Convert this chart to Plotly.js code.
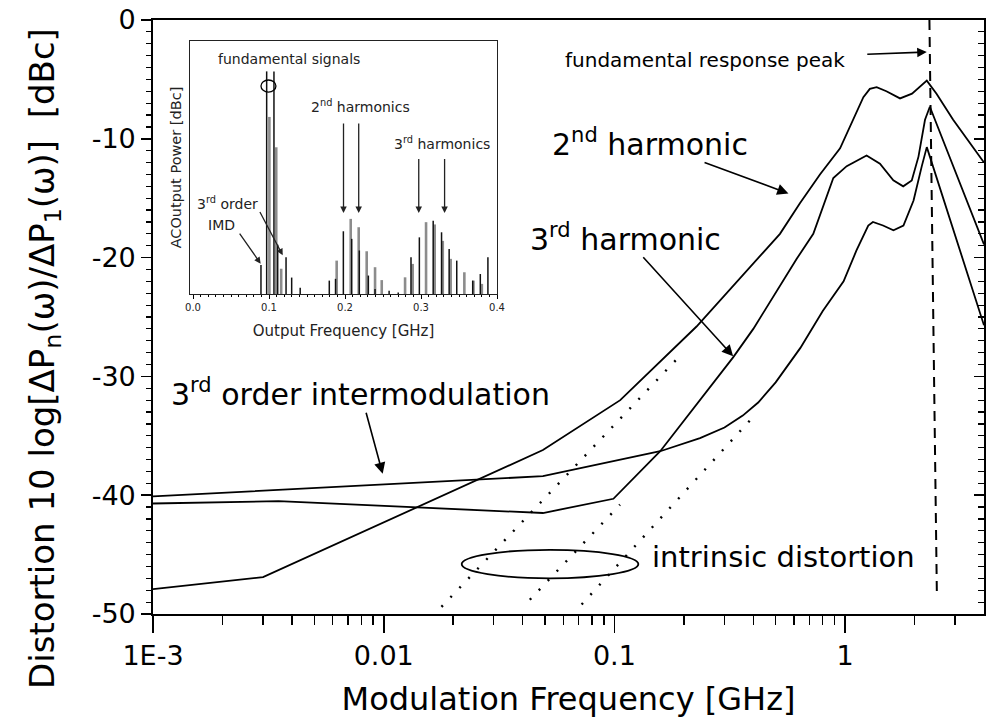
<!DOCTYPE html>
<html>
<head>
<meta charset="utf-8">
<script src="https://cdn.plot.ly/plotly-3.0.1.min.js"></script>
<style>html,body{margin:0;padding:0;background:#fff}</style>
</head>
<body>
<div id="chart" style="width:992px;height:724px"></div>
<script>
// ---------- main chart data: modulation frequency [GHz] vs distortion [dBc] ----------
const h2Freq = [0.001, 0.0030, 0.049, 0.106, 0.227, 0.522, 0.638, 0.778, 0.951, 1.086, 1.20, 1.28, 1.37, 1.51, 1.73, 1.95, 2.26, 2.49, 2.94, 4.0];
const h2Db   = [-47.9, -46.9, -36.2, -32.0, -25.8, -18.0, -15.4, -13.0, -10.8, -8.3, -6.5, -5.8, -5.65, -6.0, -6.6, -6.2, -5.1, -6.2, -8.4, -12.0];

const h3Freq = [0.001, 0.0035, 0.049, 0.099, 0.158, 0.327, 0.40, 0.522, 0.617, 0.728, 0.889, 1.016, 1.239, 1.416, 1.618, 1.786, 1.945, 2.08, 2.22, 2.33, 4.0];
const h3Db   = [-40.7, -40.5, -41.5, -40.3, -36.3, -28.4, -26.0, -22.4, -20.1, -18.0, -13.3, -12.3, -11.4, -12.1, -13.5, -14.0, -13.5, -11.5, -8.4, -7.3, -18.9];

const imdFreq = [0.001, 0.049, 0.158, 0.235, 0.30, 0.36, 0.42, 0.50, 0.64, 0.80, 0.985, 1.12, 1.26, 1.32, 1.46, 1.62, 1.79, 1.98, 2.15, 2.26, 4.0];
const imdDb   = [-40.1, -38.4, -36.3, -35.2, -34.3, -33.3, -32.2, -30.5, -27.6, -24.5, -22.0, -19.4, -17.3, -17.0, -17.3, -17.7, -17.3, -15.2, -12.3, -10.7, -25.7];

// intrinsic distortion (dotted) lines: [start, end]
const intr1Freq = [0.0178, 0.196], intr1Db = [-49.4, -28.1];
const intr2Freq = [0.0430, 0.1057], intr2Db = [-48.8, -40.8];
const intr3Freq = [0.0721, 0.387], intr3Db = [-49.2, -33.7];

// fundamental response peak (dashed vertical marker)
const peakFreq = [2.32, 2.50], peakDb = [0, -48.6];

// ---------- inset spectrum data: output frequency [GHz] vs AC output power (relative) ----------
const blackFreq = [0.0894, 0.0969, 0.1065, 0.1114, 0.1224, 0.1298, 0.141, 0.1793, 0.1875, 0.1978, 0.2088, 0.2188, 0.2307, 0.2395, 0.258, 0.270,
                   0.2868, 0.2978, 0.3160, 0.3270, 0.3370, 0.3470, 0.3680, 0.3780, 0.3880];
const blackPow  = [11.5, 88, 88, 19.5, 14.5, 6.5, 2.5, 5.3, 6, 24.8, 21.8, 17.2, 7.3, 2, 1.3, 0.6,
                   14.5, 22.4, 29, 24.4, 17.8, 13.2, 5.3, 7.9, 14.5];
const grayFreq  = [0.1005, 0.1095, 0.1160, 0.1890, 0.2075, 0.2180, 0.2285, 0.2395, 0.2483,
                   0.2790, 0.2890, 0.3066, 0.3180, 0.3286, 0.3390, 0.3570, 0.3690, 0.3800];
const grayPow   = [70, 58, 10, 13.2, 29.7, 26.4, 16.9, 10.6, 5.5,
                   6.6, 11.9, 28.4, 27.5, 21, 13.9, 8.6, 5.3, 4];

const insetTickVals = [0, 0.1, 0.2, 0.3, 0.4];
const insetTickText = ['0.0', '0.1', '0.2', '0.3', '0.4'];
const mainTickVals = [0.001, 0.01, 0.1, 1];
const mainTickText = ['1E-3', '0.01', '0.1', '1'];
const yTickVals = [0, -10, -20, -30, -40, -50];
const yTickText = ['0', '-10', '-20', '-30', '-40', '-50'];

// ---------- helpers ----------
function stems(fs, ps) {
  const x = [], y = [];
  fs.forEach((f, i) => { x.push(f, f, null); y.push(0, ps[i], null); });
  return {x, y};
}
const minorX = [];
for (let e = -3; e <= 0; e++) for (let m = 2; m <= 9; m++) { const v = m * Math.pow(10, e); if (v < 4) minorX.push(v); }

const FONT = 'DejaVu Sans';
const K = '#000';
const curve = (x, y) => ({x, y, type: 'scatter', mode: 'lines', xaxis: 'x', yaxis: 'y',
  line: {color: K, width: 1.8}, hoverinfo: 'skip'});
const dotted = (x, y) => ({x, y, type: 'scatter', mode: 'lines', xaxis: 'x', yaxis: 'y',
  line: {color: K, width: 2.4, dash: '2px,11px'}, hoverinfo: 'skip'});

const bs = stems(blackFreq, blackPow), gs = stems(grayFreq, grayPow);

const traces = [
  curve(h2Freq, h2Db), curve(h3Freq, h3Db), curve(imdFreq, imdDb),
  dotted(intr1Freq, intr1Db), dotted(intr2Freq, intr2Db), dotted(intr3Freq, intr3Db),
  {x: peakFreq, y: peakDb, type: 'scatter', mode: 'lines', xaxis: 'x', yaxis: 'y2',
   line: {color: K, width: 2, dash: '10px,7px'}, hoverinfo: 'skip'},
  {x: gs.x, y: gs.y, type: 'scatter', mode: 'lines', xaxis: 'x3', yaxis: 'y3',
   line: {color: '#8c8c8c', width: 2.6}, connectgaps: false, hoverinfo: 'skip'},
  {x: bs.x, y: bs.y, type: 'scatter', mode: 'lines', xaxis: 'x3', yaxis: 'y3',
   line: {color: '#111', width: 1.5}, connectgaps: false, hoverinfo: 'skip'}
];

const L = Math.log10;
// label with its pointer arrow: (f, db) is the arrow tip, (ax, ay) the pixel offset of the text centre
const pointer = (f, db, text, size, ax, ay, extra) => Object.assign({x: L(f), y: db, xref: 'x', yref: 'y', text,
  font: {family: FONT, size, color: K}, showarrow: true, arrowhead: 2, arrowsize: 1.4, arrowwidth: 1.6,
  arrowcolor: K, ax, ay, borderpad: 0}, extra || {});
const label = (f, db, text, size) => ({x: L(f), y: db, xref: 'x', yref: 'y', text, showarrow: false,
  font: {family: FONT, size, color: K}, xanchor: 'center', yanchor: 'middle'});
const iLabel = (x, y, text) => ({x, y, xref: 'x3', yref: 'y3', text, showarrow: false,
  font: {family: FONT, size: 14, color: '#222'}, xanchor: 'center', yanchor: 'middle'});
const iArrow = (x, y, axv, ayv) => ({x, y, ax: axv, ay: ayv, xref: 'x3', yref: 'y3', axref: 'x3', ayref: 'y3',
  text: '', showarrow: true, arrowhead: 2, arrowsize: 1, arrowwidth: 1.3, arrowcolor: '#222'});

const annotations = [
  pointer(0.568, -14.6, '2<sup>nd</sup> harmonic', 30, -138, -51),
  pointer(0.327, -28.3, '3<sup>rd</sup> harmonic', 30, -108, -119),
  pointer(0.0099, -38.2, '3<sup>rd</sup> order intermodulation', 30, -22, -81),
  pointer(2.26, -2.7, 'fundamental response peak', 20, -222, 8, {startstandoff: 22, arrowsize: 1.2}),
  label(0.54, -45.2, 'intrinsic distortion', 29),
  // y-axis title (placed as in the reference, centred below the plot centre)
  {xref: 'paper', yref: 'paper', x: -0.130, y: 0.431, textangle: -90, showarrow: false,
   text: 'Distortion 10 log[ΔP<sub>n</sub>(ω)/ΔP<sub>1</sub>(ω)]\u00a0 [dBc]',
   font: {family: FONT, size: 34, color: K}, xanchor: 'center', yanchor: 'middle'},
  // inset labels
  iLabel(0.126, 93, 'fundamental signals'),
  iLabel(0.221, 74.5, '2<sup>nd</sup> harmonics'),
  iLabel(0.327, 59.5, '3<sup>rd</sup> harmonics'),
  iLabel(0.046, 36, '3<sup>rd</sup> order'),
  iLabel(0.037, 27.3, 'IMD'),
  iArrow(0.198, 32, 0.198, 68),
  iArrow(0.218, 32, 0.218, 68),
  iArrow(0.297, 32, 0.297, 54),
  iArrow(0.331, 32, 0.331, 54),
  iArrow(0.118, 15.3, 0.087, 33),
  iArrow(0.089, 12, 0.060, 24.5)
];

const shapes = [
  {type: 'circle', xref: 'x', yref: 'y', x0: 0.02178, x1: 0.127, y0: -47.0, y1: -44.6,
   line: {color: K, width: 1.8}},
  {type: 'circle', xref: 'x3', yref: 'y3', x0: 0.0894, x1: 0.1091, y0: 79.8, y1: 84.6,
   line: {color: K, width: 1.3}}
];

const layout = {
  width: 992, height: 724,
  margin: {l: 153, r: 8, t: 20, b: 110},
  paper_bgcolor: '#fff', plot_bgcolor: 'rgba(0,0,0,0)',
  showlegend: false,
  font: {family: FONT, color: K},
  xaxis: {
    type: 'log', range: [-3, L(4)], tickvals: mainTickVals, ticktext: mainTickText,
    ticks: 'outside', ticklen: 17, tickwidth: 1.6, tickcolor: K,
    minor: {tickvals: minorX, ticks: 'outside', ticklen: 9, tickwidth: 1.4, tickcolor: K},
    showline: true, linecolor: K, linewidth: 1.8, mirror: true,
    showgrid: false, zeroline: false,
    tickfont: {family: FONT, size: 27, color: K},
    title: {text: 'Modulation Frequency [GHz]', font: {family: FONT, size: 32, color: K}, standoff: 17},
    automargin: false
  },
  yaxis: {
    range: [-50, 0], tickvals: yTickVals, ticktext: yTickText,
    ticks: 'outside', ticklen: 10, tickwidth: 1.6, tickcolor: K,
    minor: {dtick: 1, ticks: 'outside', ticklen: 5, tickwidth: 1.2, tickcolor: K},
    showline: true, linecolor: K, linewidth: 1.8, mirror: true,
    showgrid: false, zeroline: false,
    tickfont: {family: FONT, size: 27, color: K},
    automargin: false
  },
  yaxis2: {
    overlaying: 'y', side: 'right', range: [-50, 0], dtick: 10, tick0: 0,
    ticks: 'inside', ticklen: 10, tickwidth: 1.6, tickcolor: K,
    minor: {dtick: 1, ticks: 'inside', ticklen: 6, tickwidth: 1.2, tickcolor: K},
    showticklabels: false, showline: true, linecolor: K, linewidth: 1.8,
    showgrid: false, zeroline: false
  },
  xaxis3: {
    domain: [0.0445, 0.414], anchor: 'y3', range: [-0.004, 0.4],
    tickvals: insetTickVals, ticktext: insetTickText,
    ticks: 'outside', ticklen: 4, tickwidth: 1, tickcolor: K,
    minor: {dtick: 0.01, ticks: 'outside', ticklen: 2, tickwidth: 1, tickcolor: K},
    showline: true, linecolor: '#222', linewidth: 1.3, mirror: true,
    showgrid: false, zeroline: false,
    tickfont: {family: FONT, size: 10, color: '#222'},
    title: {text: 'Output Frequency [GHz]', font: {family: FONT, size: 15, color: '#222'}, standoff: 13}
  },
  yaxis3: {
    domain: [0.5387, 0.9646], anchor: 'x3', range: [0, 100],
    showticklabels: false, ticks: '',
    showline: true, linecolor: '#222', linewidth: 1.3, mirror: true,
    showgrid: false, zeroline: false,
    title: {text: 'ACOutput Power [dBc]', font: {family: FONT, size: 14.5, color: '#222'}, standoff: 3}
  },
  annotations, shapes
};

Plotly.newPlot('chart', traces, layout, {staticPlot: true, displayModeBar: false});
</script>
</body>
</html>
